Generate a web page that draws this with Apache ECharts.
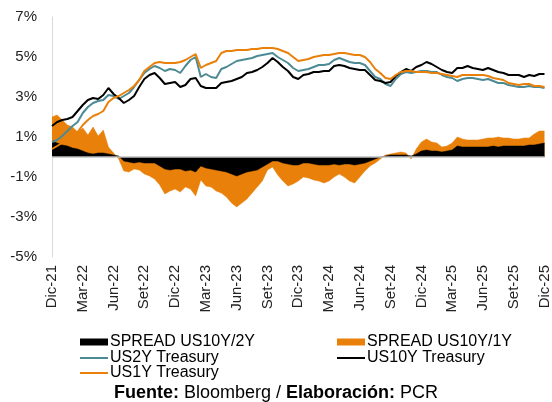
<!DOCTYPE html>
<html>
<head>
<meta charset="utf-8">
<script src="https://cdn.jsdelivr.net/npm/echarts@6/dist/echarts.min.js"></script>
<style>
  html, body { margin: 0; padding: 0; background: #fff; }
  #chart { width: 552px; height: 402px; }
</style>
</head>
<body>
<div id="chart"></div>
<script>
// meses (un punto a inicio y otro a mitad de mes)
var months = ['Dic-21','Ene-22','Feb-22','Mar-22','Abr-22','May-22','Jun-22','Jul-22','Ago-22','Set-22','Oct-22','Nov-22',
  'Dic-22','Ene-23','Feb-23','Mar-23','Abr-23','May-23','Jun-23','Jul-23','Ago-23','Set-23','Oct-23','Nov-23',
  'Dic-23','Ene-24','Feb-24','Mar-24','Abr-24','May-24','Jun-24','Jul-24','Ago-24','Set-24','Oct-24','Nov-24',
  'Dic-24','Ene-25','Feb-25','Mar-25','Abr-25','May-25','Jun-25','Jul-25','Ago-25','Set-25','Oct-25','Nov-25','Dic-25'];

var yTicks = [-5, -3, -1, 1, 3, 5, 7];

var spread10y2y = [0.8,0.7,0.6,0.55,0.45,0.4,0.3,0.2,0.15,0.2,0.2,0.15,0.1,0.05,-0.2,-0.25,-0.3,-0.25,-0.3,-0.3,
  -0.3,-0.45,-0.6,-0.65,-0.6,-0.6,-0.7,-0.65,-0.75,-0.45,-0.55,-0.6,-0.65,-0.7,-0.75,-0.85,-0.95,-0.85,-0.75,-0.7,
  -0.65,-0.5,-0.35,-0.2,-0.2,-0.3,-0.35,-0.4,-0.4,-0.3,-0.3,-0.35,-0.4,-0.4,-0.4,-0.35,-0.4,-0.35,-0.35,-0.4,
  -0.35,-0.3,-0.2,-0.1,0.0,0.05,0.1,0.1,0.1,0.1,0.05,0.15,0.3,0.35,0.3,0.3,0.25,0.3,0.35,0.55,
  0.5,0.5,0.5,0.5,0.5,0.5,0.55,0.5,0.55,0.55,0.55,0.55,0.55,0.6,0.6,0.65,0.7];

var spread10y1y = [2.0,2.1,1.85,1.6,1.5,1.25,1.45,1.1,1.5,1.05,1.35,0.5,0.2,-0.1,-0.7,-0.75,-0.6,-0.65,-0.85,-0.95,
  -1.1,-1.4,-1.85,-1.7,-1.6,-1.75,-1.5,-1.6,-1.95,-1.15,-1.45,-1.5,-1.7,-1.8,-2.0,-2.3,-2.5,-2.3,-2.1,-1.8,
  -1.5,-1.2,-0.65,-0.5,-0.9,-1.2,-1.45,-1.35,-1.2,-1.0,-1.05,-1.15,-1.2,-1.3,-1.2,-1.0,-0.85,-1.0,-1.2,-1.3,
  -1.0,-0.7,-0.45,-0.3,-0.1,0.1,0.15,0.2,0.25,0.2,-0.1,0.4,0.75,0.9,0.75,0.7,0.5,0.55,0.7,1.0,
  0.9,0.85,0.85,0.85,0.9,0.95,0.95,1.0,0.95,0.95,0.9,0.9,0.95,0.95,1.15,1.3,1.3];

var us2y = [0.75,0.85,1.05,1.3,1.55,1.75,2.2,2.5,2.7,2.8,2.85,3.1,3.05,2.9,3.05,3.2,3.5,3.85,4.2,4.4,
  4.55,4.45,4.3,4.4,4.35,4.2,4.55,4.85,5.0,4.0,4.15,4.0,3.95,4.4,4.5,4.65,4.8,4.85,4.9,4.95,
  5.05,5.1,5.15,5.2,5.0,4.85,4.7,4.45,4.3,4.35,4.4,4.5,4.6,4.6,4.65,4.85,4.95,4.85,4.75,4.7,
  4.7,4.6,4.3,4.0,3.9,3.65,3.55,3.9,4.15,4.25,4.2,4.25,4.3,4.3,4.25,4.25,4.1,4.0,3.95,3.8,
  3.9,3.95,3.95,3.9,3.85,3.9,3.8,3.7,3.7,3.6,3.55,3.5,3.5,3.55,3.5,3.5,3.45];

var us10y = [1.55,1.75,1.85,1.9,2.0,2.3,2.6,2.85,2.95,2.9,3.1,3.45,3.15,2.95,2.7,2.85,3.05,3.5,3.9,4.1,
  4.2,3.95,3.65,3.7,3.75,3.5,3.6,3.9,3.95,3.55,3.45,3.45,3.45,3.7,3.75,3.8,3.9,4.0,4.2,4.25,
  4.35,4.5,4.7,4.95,4.75,4.5,4.3,4.0,3.9,4.1,4.15,4.25,4.25,4.3,4.3,4.55,4.6,4.55,4.45,4.4,
  4.35,4.35,4.1,3.85,3.8,3.7,3.75,4.05,4.25,4.4,4.3,4.5,4.6,4.75,4.65,4.5,4.35,4.25,4.2,4.45,
  4.45,4.55,4.45,4.4,4.35,4.45,4.35,4.25,4.2,4.1,4.1,4.1,4.0,4.1,4.05,4.15,4.15];

var us1y = [0.4,0.55,0.7,0.8,1.0,1.25,1.6,1.85,2.05,2.15,2.3,2.75,2.95,3.05,3.2,3.35,3.55,3.85,4.3,4.5,
  4.7,4.75,4.7,4.7,4.7,4.75,4.85,5.0,5.15,4.45,4.6,4.7,4.8,5.2,5.3,5.3,5.35,5.35,5.35,5.4,
  5.4,5.45,5.45,5.45,5.4,5.3,5.2,5.0,4.8,4.85,4.9,5.0,5.05,5.1,5.1,5.15,5.2,5.2,5.15,5.1,
  5.1,5.0,4.75,4.4,4.2,3.95,3.9,4.1,4.25,4.3,4.3,4.25,4.25,4.25,4.2,4.2,4.15,4.1,4.05,4.0,
  4.1,4.1,4.1,4.1,4.1,4.05,3.95,3.9,3.85,3.7,3.65,3.6,3.65,3.65,3.55,3.55,3.5];

var categories = [];
months.forEach(function (m, i) {
    categories.push(m);
    if (i < months.length - 1) categories.push(m + ' 15');
});

var font = 'Arial, "Liberation Sans", sans-serif';
var cBlack = '#000000', cOrange = '#E8800A', cTeal = '#4C8A94';

var dom = document.getElementById('chart');
var myChart = echarts.init(dom);
var option = null;

function legendAt(name, left, top, h) {
    return {
        data: [name], left: left, top: top, padding: 0, icon: 'rect',
        itemWidth: 28, itemHeight: h, itemGap: 0, selectedMode: false,
        textStyle: { fontFamily: font, fontSize: 16, color: '#000', padding: [0, 0, 0, -3] }
    };
}

option = {
    animation: false,
    textStyle: { fontFamily: font },
    grid: { left: 52, right: 5, top: 17, bottom: 145 },
    legend: [
        legendAt('SPREAD US10Y/2Y', 80, 334, 7),
        legendAt('SPREAD US10Y/1Y', 337, 334, 7),
        legendAt('US2Y Treasury', 80, 350, 2),
        legendAt('US10Y Treasury', 337, 350, 2),
        legendAt('US1Y Treasury', 80, 365, 2)
    ],
    title: {
        text: '{b|Fuente:} Bloomberg / {b|Elaboración:} PCR',
        left: 'center', top: 384, padding: 0,
        textStyle: {
            fontFamily: font, fontSize: 18, fontWeight: 'normal', color: '#000',
            rich: { b: { fontFamily: font, fontSize: 18, fontWeight: 'bold', color: '#000' } }
        }
    },
    xAxis: {
        type: 'category',
        data: categories,
        boundaryGap: false,
        axisLine: { show: false, onZero: false },
        axisTick: { show: false },
        axisLabel: {
            rotate: 90, margin: 8, fontSize: 15, color: '#222', fontFamily: font,
            interval: function (index) { return index % 6 === 0; }
        },
        splitLine: { show: false }
    },
    yAxis: {
        type: 'value',
        min: yTicks[0], max: yTicks[yTicks.length - 1], interval: 2,
        axisLine: { show: true, lineStyle: { color: '#D9D9D9', width: 1 } },
        axisTick: { show: false },
        splitLine: { show: false },
        axisLabel: { margin: 15, fontSize: 15, color: '#222', fontFamily: font, formatter: '{value}%' }
    },
    series: [
        {
            name: 'SPREAD US10Y/1Y', type: 'line', data: spread10y1y,
            showSymbol: false, symbol: 'none', color: cOrange,
            lineStyle: { width: 0.5, color: cOrange },
            areaStyle: { color: cOrange, opacity: 1 }
        },
        {
            name: 'SPREAD US10Y/2Y', type: 'line', data: spread10y2y,
            showSymbol: false, symbol: 'none', color: cBlack,
            lineStyle: { width: 0.5, color: cBlack },
            areaStyle: { color: cBlack, opacity: 1 },
            markLine: {
                silent: true, symbol: 'none', label: { show: false },
                lineStyle: { color: '#BFBFBF', width: 1.5, type: 'solid' },
                data: [{ yAxis: 0 }]
            }
        },
        {
            name: 'US2Y Treasury', type: 'line', data: us2y,
            showSymbol: false, symbol: 'none', color: cTeal,
            lineStyle: { width: 2, color: cTeal }
        },
        {
            name: 'US10Y Treasury', type: 'line', data: us10y,
            showSymbol: false, symbol: 'none', color: cBlack,
            lineStyle: { width: 2, color: cBlack }
        },
        {
            name: 'US1Y Treasury', type: 'line', data: us1y,
            showSymbol: false, symbol: 'none', color: cOrange,
            lineStyle: { width: 2, color: cOrange }
        }
    ]
};
if (option && typeof option === "object") {
    myChart.setOption(option, true);
}
</script>
</body>
</html>
